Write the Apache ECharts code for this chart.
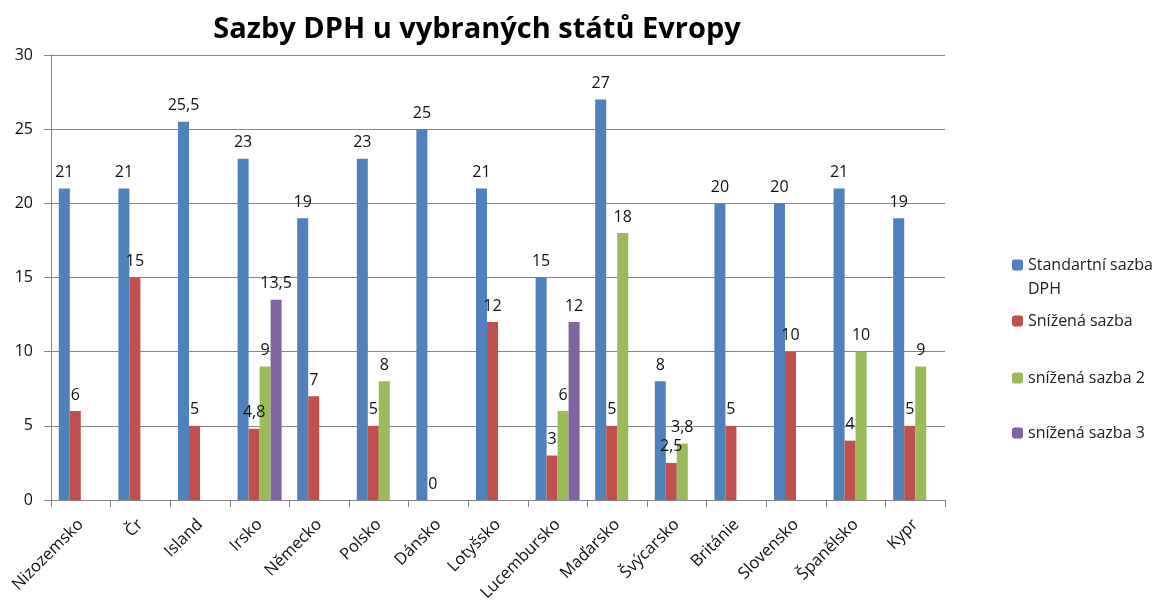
<!DOCTYPE html>
<html><head><meta charset="utf-8">
<script src="https://cdn.jsdelivr.net/npm/echarts@6/dist/echarts.min.js"></script>
<style>html,body{margin:0;padding:0;background:#fff}#c{width:1161px;height:610px}</style>
</head><body><div id="c"></div>
<script>
const categories = ['Nizozemsko','Čr','Island','Irsko','Německo','Polsko','Dánsko','Lotyšsko','Lucembursko','Maďarsko','Švýcarsko','Británie','Slovensko','Španělsko','Kypr'];
const seriesNames = ['Standartní sazba DPH','Snížená sazba','snížená sazba 2','snížená sazba 3'];
const standard = [21,21,25.5,23,19,23,25,21,15,27,8,20,20,21,19];
const reduced1 = [6,15,5,4.8,7,5,0,12,3,5,2.5,5,10,4,5];
const reduced2 = [null,null,null,9,null,8,null,null,6,18,3.8,null,null,10,9];
const reduced3 = [null,null,null,13.5,null,null,null,null,12,null,null,null,null,null,null];
const yTicks = [0,5,10,15,20,25,30];

const colors = ['#4F81BD','#C0504D','#9BBB59','#8064A2'];
const font = 'Open Sans';
const values = [standard, reduced1, reduced2, reduced3];

const chart = echarts.init(document.getElementById('c'));
const legendTops = [229, 309, 366, 421];
chart.setOption({
  animation: false,
  title: {
    text: 'Sazby DPH u vybraných států Evropy',
    left: 472, top: 10, textAlign: 'center',
    textStyle: {fontFamily: font, fontSize: 29, fontWeight: 'bold', color: '#000'}
  },
  legend: seriesNames.map((n, i) => ({
    data: [n], orient: 'vertical', left: 1012, top: legendTops[i], padding: 0,
    itemWidth: 11, itemHeight: 11,
    formatter: i === 0 ? ' \nStandartní sazba\nDPH' : '{name}',
    textStyle: {fontFamily: font, fontSize: 16, color: '#222', lineHeight: 24}
  })),
  grid: {left: 51, right: 216, top: 55, bottom: 110},
  xAxis: {
    type: 'category', data: categories,
    axisLine: {lineStyle: {color: '#868686'}},
    axisTick: {show: true, length: 7, lineStyle: {color: '#868686'}},
    axisLabel: {rotate: 45, interval: 0, margin: 22, fontFamily: font, fontSize: 16.5, color: '#111'}
  },
  yAxis: {
    type: 'value', min: yTicks[0], max: yTicks[yTicks.length-1], interval: 5,
    axisLine: {show: true, lineStyle: {color: '#868686'}},
    axisTick: {show: true, length: 7, lineStyle: {color: '#868686'}},
    splitLine: {lineStyle: {color: '#868686'}},
    axisLabel: {margin: 18, fontFamily: font, fontSize: 16, color: '#111'}
  },
  series: seriesNames.map((n, i) => ({
    name: n, type: 'bar', data: values[i],
    barWidth: 11, barGap: '0%', barCategoryGap: '25%',
    itemStyle: {color: colors[i]},
    label: {
      show: true, position: 'top', distance: 8,
      fontFamily: font, fontSize: 16, color: '#111',
      formatter: p => (p.value === null || p.value === undefined) ? '' : String(p.value).replace('.', ',')
    }
  }))
});
</script></body></html>
